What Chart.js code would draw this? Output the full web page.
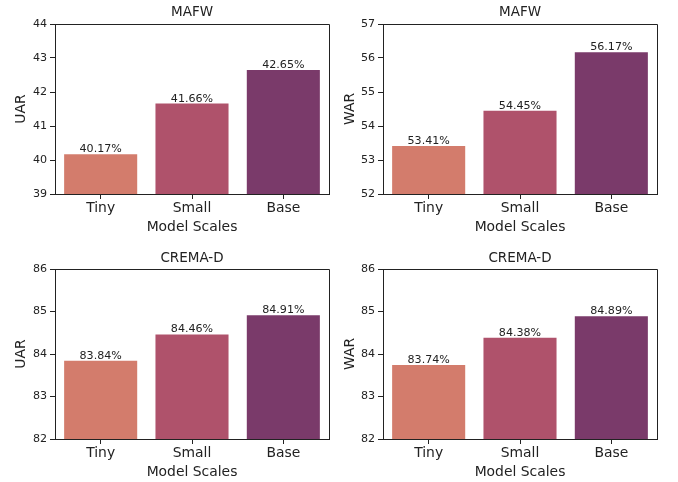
<!DOCTYPE html>
<html>
<head>
<meta charset="utf-8">
<script src="https://cdn.jsdelivr.net/npm/chart.js@4.4.1/dist/chart.umd.min.js"></script>
<style>
  body { margin: 0; background: #fff; }
  #wrap { position: relative; width: 678px; height: 482px; background: #fff; }
  #wrap canvas { position: absolute; }
</style>
</head>
<body>
<div id="wrap">
  <canvas id="mafwUar" width="339" height="241"></canvas>
  <canvas id="mafwWar" width="339" height="241"></canvas>
  <canvas id="cremaUar" width="339" height="241"></canvas>
  <canvas id="cremaWar" width="339" height="241"></canvas>
</div>
<script>
// model sizes on the x axis
const modelScales = ['Tiny', 'Small', 'Base'];

// scores per dataset / metric
const mafwUarValues = [40.17, 41.66, 42.65];
const mafwWarValues = [53.41, 54.45, 56.17];
const cremaUarValues = [83.84, 84.46, 84.91];
const cremaWarValues = [83.74, 84.38, 84.89];

// y axis limits [min, max]
const mafwUarRange = [39, 44];
const mafwWarRange = [52, 57];
const cremaUarRange = [82, 86];
const cremaWarRange = [82, 86];

const barColors = ['#d37c6c', '#af526b', '#7a3a6a'];

const FONT = 'DejaVu Sans';
const INK = '#222';

// draws the value above each bar
const valueLabels = {
    id: 'valueLabels',
    afterDatasetsDraw(chart) {
        const ctx = chart.ctx;
        const meta = chart.getDatasetMeta(0);
        ctx.save();
        ctx.font = '11.1px "' + FONT + '"';
        ctx.fillStyle = INK;
        ctx.textAlign = 'center';
        ctx.textBaseline = 'alphabetic';
        meta.data.forEach((bar, i) => {
            const v = chart.data.datasets[0].data[i];
            ctx.fillText(v.toFixed(2) + '%', bar.x, bar.y - 2);
        });
        ctx.restore();
    }
};

// top and right spines, plus the panel title centred over the plot area
const frame = {
    id: 'frame',
    afterDraw(chart, args, opts) {
        const a = chart.chartArea;
        const ctx = chart.ctx;
        ctx.save();
        ctx.strokeStyle = INK;
        ctx.lineWidth = 1;
        ctx.beginPath();
        ctx.moveTo(a.left, a.top + 0.5);
        ctx.lineTo(a.right + 0.5, a.top + 0.5);
        ctx.lineTo(a.right + 0.5, a.bottom);
        ctx.stroke();

        ctx.font = '13.5px "' + FONT + '"';
        ctx.fillStyle = INK;
        ctx.textAlign = 'center';
        ctx.textBaseline = 'middle';
        ctx.fillText(opts.text, (a.left + a.right) / 2, opts.y);
        ctx.restore();
    }
};

function makePanel(id, canvasBox, area, titleText, titleY, yLabel, yLabelX, values, range) {
    const canvas = document.getElementById(id);
    canvas.style.left = canvasBox[0] + 'px';
    canvas.style.top = canvasBox[1] + 'px';

    const axisLine = 13.9 * 1.2;
    const yWidth = area[0] - canvasBox[0];
    const rightPad = canvasBox[0] + canvasBox[2] - area[2];
    const topPad = area[1] - canvasBox[1];
    const xHeight = canvasBox[1] + canvasBox[3] - area[3];
    const xTitleBottom = (canvasBox[1] + canvasBox[3]) - (area[3] + 33) - axisLine / 2;
    const yTitleTop = yLabelX - canvasBox[0] - axisLine / 2;

    return new Chart(canvas, {
        type: 'bar',
        data: {
            labels: modelScales,
            datasets: [{
                data: values,
                backgroundColor: barColors,
                borderWidth: 0,
                categoryPercentage: 1,
                barPercentage: 0.8
            }]
        },
        options: {
            responsive: false,
            animation: false,
            layout: { padding: { left: 0, top: topPad, bottom: 0, right: rightPad } },
            plugins: {
                legend: { display: false },
                tooltip: { enabled: false },
                title: { display: false },
                frame: { text: titleText, y: titleY - canvasBox[1] }
            },
            scales: {
                x: {
                    grid: { offset: false, drawOnChartArea: false, tickLength: 5, color: INK },
                    border: { color: INK, width: 1 },
                    ticks: { color: INK, font: { family: FONT, size: 13.9 }, padding: 1 },
                    title: {
                        display: true, text: 'Model Scales', color: INK,
                        font: { family: FONT, size: 13.9 },
                        padding: { top: 0, bottom: xTitleBottom }
                    },
                    afterFit(s) { s.height = xHeight; }
                },
                y: {
                    min: range[0],
                    max: range[1],
                    grid: { drawOnChartArea: false, tickLength: 5, color: INK },
                    border: { color: INK, width: 1 },
                    ticks: { stepSize: 1, color: INK, font: { family: FONT, size: 11.1 }, padding: 3 },
                    title: {
                        display: true, text: yLabel, color: INK,
                        font: { family: FONT, size: 13.9 },
                        padding: { top: yTitleTop, bottom: 0 }
                    },
                    afterFit(s) { s.width = yWidth; }
                }
            }
        },
        plugins: [valueLabels, frame]
    });
}

// canvas box [x, y, w, h], plot area [left, top, right, bottom]
makePanel('mafwUar', [0, 0, 339, 241], [55, 24, 329, 194], 'MAFW', 12.5, 'UAR', 21, mafwUarValues, mafwUarRange);
makePanel('mafwWar', [339, 0, 339, 241], [383, 24, 657, 194], 'MAFW', 12.5, 'WAR', 350.5, mafwWarValues, mafwWarRange);
makePanel('cremaUar', [0, 241, 339, 241], [55, 269, 329, 439], 'CREMA-D', 258.8, 'UAR', 21, cremaUarValues, cremaUarRange);
makePanel('cremaWar', [339, 241, 339, 241], [383, 269, 657, 439], 'CREMA-D', 258.8, 'WAR', 350.5, cremaWarValues, cremaWarRange);
</script>
</body>
</html>
